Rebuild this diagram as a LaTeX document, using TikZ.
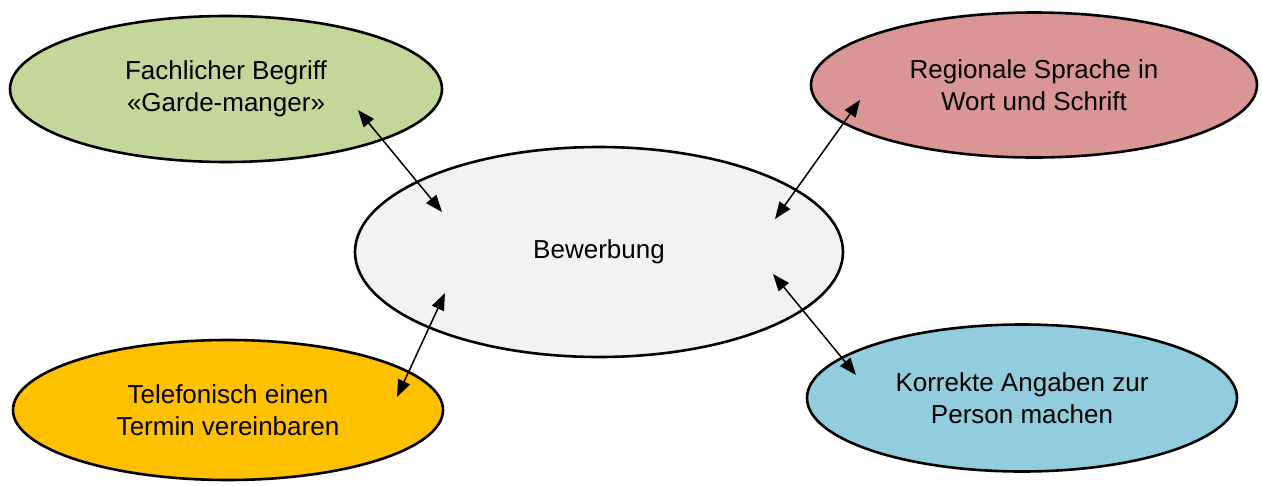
\documentclass[tikz,border=0pt]{standalone}
\usepackage{fontspec}
\setmainfont{Liberation Sans}
\usetikzlibrary{shapes.geometric,arrows.meta}
\definecolor{cgreen}{HTML}{C4D79B}
\definecolor{cred}{HTML}{DA9694}
\definecolor{corange}{HTML}{FFC000}
\definecolor{cblue}{HTML}{92CDDD}
\definecolor{cgray}{HTML}{F2F2F2}
\tikzset{
  bubble/.style={ellipse, draw=black, line width=2.6pt, inner sep=0pt,
    align=center, font=\fontsize{26}{32}\selectfont},
  link/.style={line width=1.5pt, {Triangle[length=17pt,width=13pt]}-{Triangle[length=17pt,width=13pt]}}
}
\begin{document}
\begin{tikzpicture}[x=1pt,y=-1pt]
\useasboundingbox (0,0) rectangle (1262,485);
\node[bubble, fill=cgray, minimum width=488pt, minimum height=210pt] (bew) at (599,252) {Bewerbung};
\node[bubble, fill=cgreen, minimum width=432pt, minimum height=146pt] (fach) at (226,89) {Fachlicher Begriff\\«Garde-manger»};
\node[bubble, fill=cred, minimum width=446pt, minimum height=145pt] (reg) at (1034,85) {Regionale Sprache in\\Wort und Schrift};
\node[bubble, fill=corange, minimum width=430pt, minimum height=140pt] (tel) at (228,410) {Telefonisch einen\\Termin vereinbaren};
\node[bubble, fill=cblue, minimum width=430pt, minimum height=147pt] (kor) at (1022,398) {Korrekte Angaben zur\\Person machen};
\coordinate (a1) at (358,110);
\coordinate (b1) at (442,212);
\coordinate (a2) at (860,100);
\coordinate (b2) at (775,219);
\coordinate (a3) at (397,397);
\coordinate (b3) at (445,293);
\coordinate (a4) at (856,375);
\coordinate (b4) at (773,274);
\draw[link] (a1) -- (b1);
\draw[link] (a2) -- (b2);
\draw[link] (a3) -- (b3);
\draw[link] (a4) -- (b4);
\end{tikzpicture}
\end{document}
